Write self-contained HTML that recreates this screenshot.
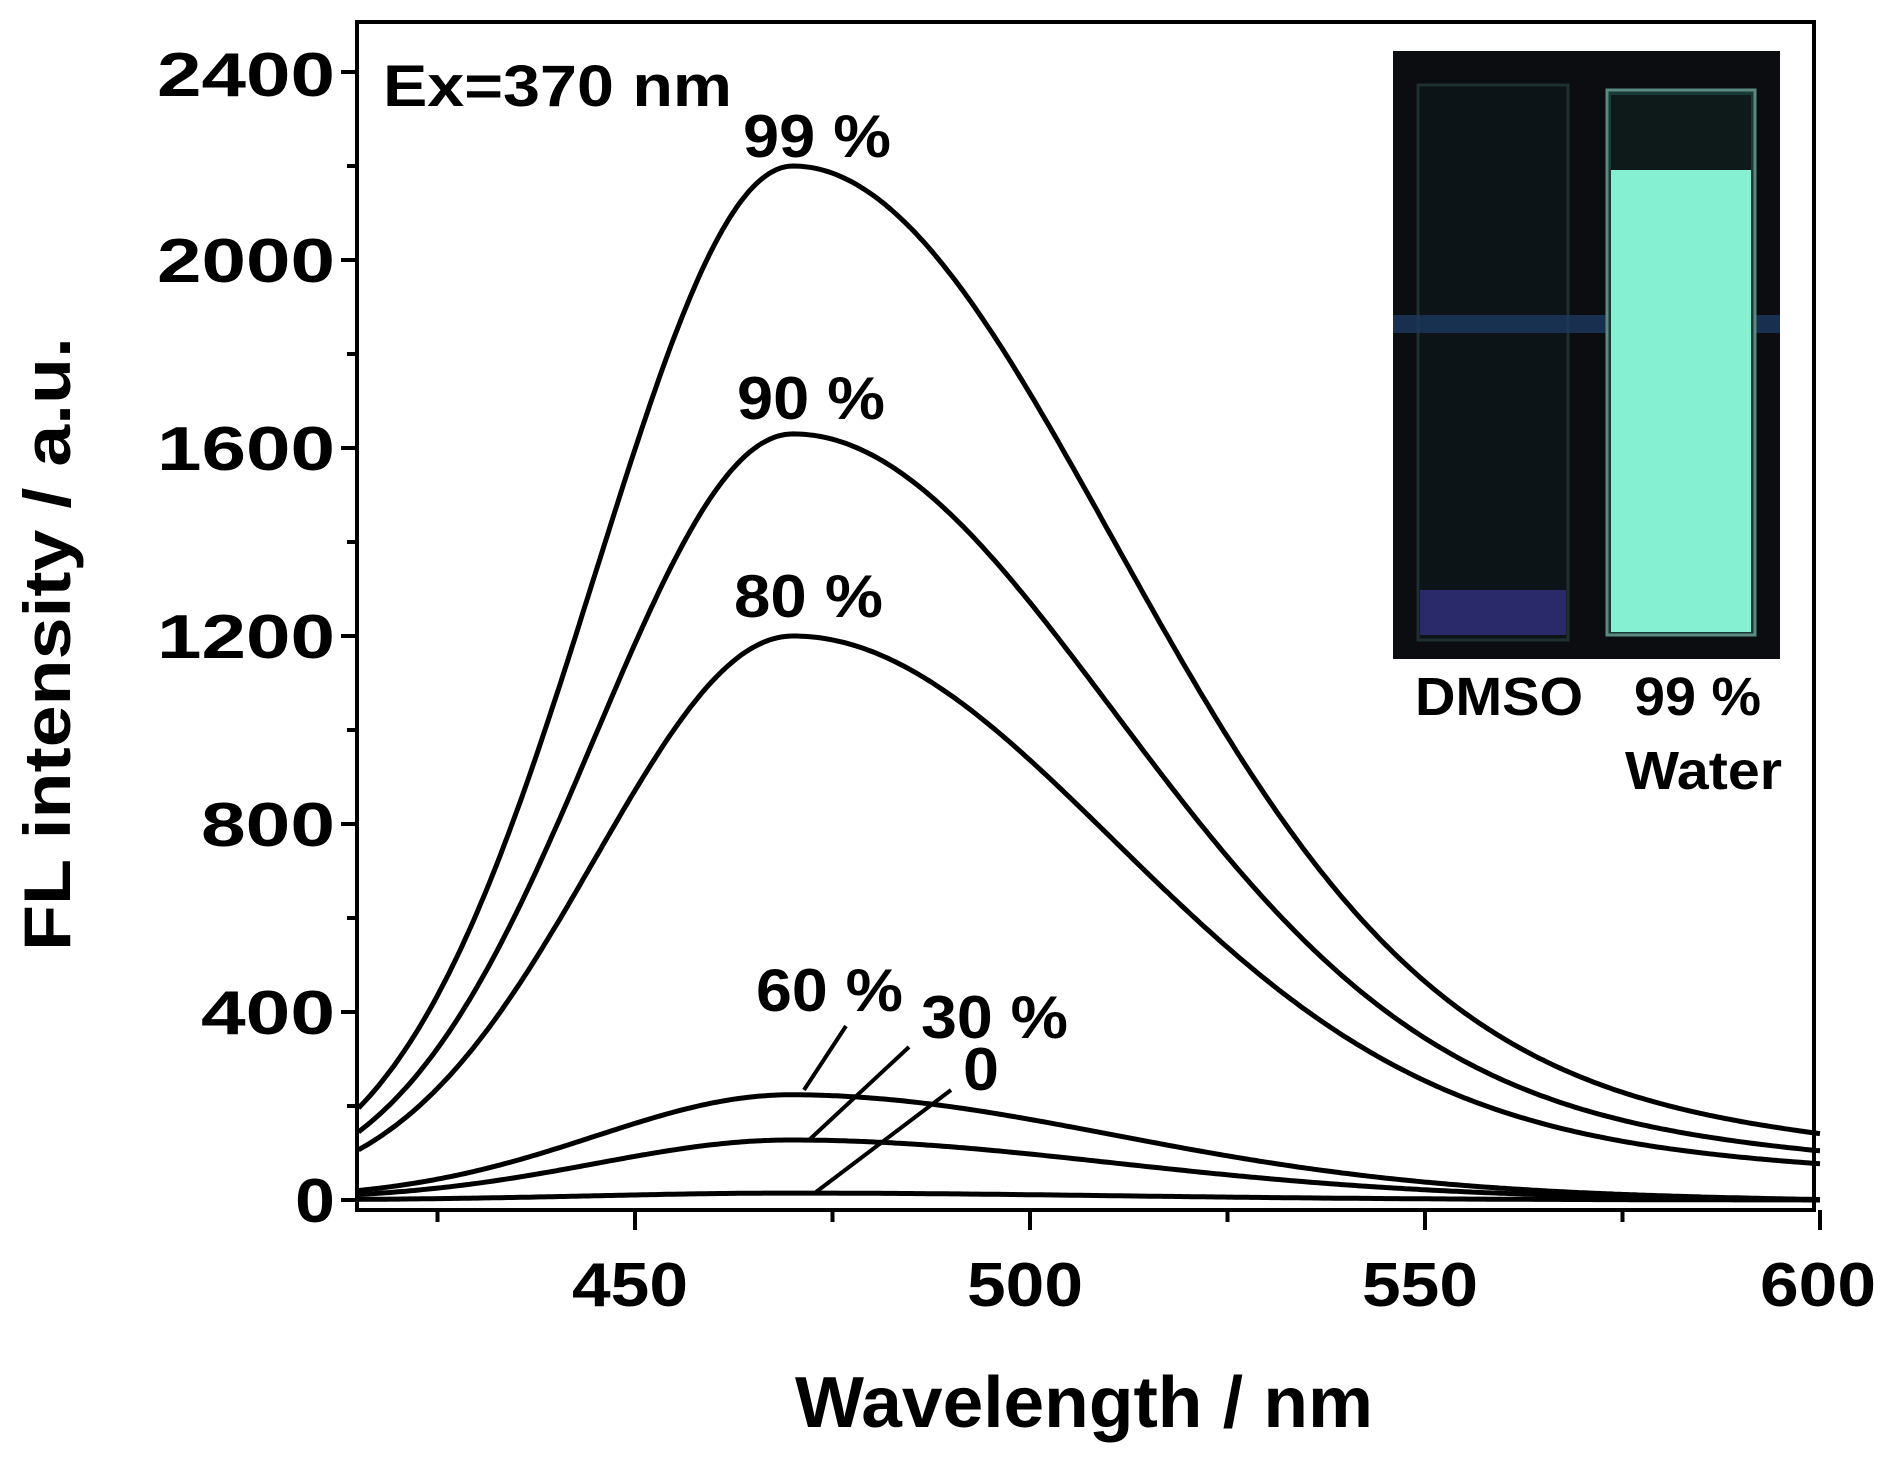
<!DOCTYPE html>
<html><head><meta charset="utf-8"><style>
html,body{margin:0;padding:0;background:#fff;}
svg{display:block;}
text{font-family:"Liberation Sans",Arial,sans-serif;font-weight:bold;fill:#000;}
</style></head><body>
<svg id="s" width="1888" height="1462" viewBox="0 0 1888 1462" xmlns="http://www.w3.org/2000/svg">
<rect width="1888" height="1462" fill="#fff"/>
<g id="curves" fill="none" stroke="#000" stroke-width="5"></g>
<rect x="357" y="22" width="1457" height="1188" fill="none" stroke="#000" stroke-width="4"/>
<g id="ticks" stroke="#000" stroke-width="4"></g>
<g font-size="62" text-anchor="end">
<text x="335" y="1222" textLength="40" lengthAdjust="spacingAndGlyphs">0</text>
<text x="335" y="1034" textLength="134" lengthAdjust="spacingAndGlyphs">400</text>
<text x="335" y="846" textLength="134" lengthAdjust="spacingAndGlyphs">800</text>
<text x="335" y="658" textLength="178" lengthAdjust="spacingAndGlyphs">1200</text>
<text x="335" y="470" textLength="178" lengthAdjust="spacingAndGlyphs">1600</text>
<text x="335" y="282" textLength="178" lengthAdjust="spacingAndGlyphs">2000</text>
<text x="335" y="96" textLength="178" lengthAdjust="spacingAndGlyphs">2400</text>
</g>
<g font-size="62" text-anchor="middle">
<text x="630" y="1306" textLength="116" lengthAdjust="spacingAndGlyphs">450</text>
<text x="1025" y="1306" textLength="116" lengthAdjust="spacingAndGlyphs">500</text>
<text x="1420" y="1306" textLength="116" lengthAdjust="spacingAndGlyphs">550</text>
<text x="1818" y="1306" textLength="116" lengthAdjust="spacingAndGlyphs">600</text>
</g>
<text x="1084" y="1427" font-size="72" text-anchor="middle" textLength="578" lengthAdjust="spacingAndGlyphs">Wavelength / nm</text>
<text transform="translate(70,644) rotate(-90)" font-size="66" text-anchor="middle" textLength="614" lengthAdjust="spacingAndGlyphs">FL intensity / a.u.</text>
<text x="383" y="106" font-size="58" textLength="349" lengthAdjust="spacingAndGlyphs">Ex=370 nm</text>
<g font-size="60">
<text x="743" y="157" textLength="148" lengthAdjust="spacingAndGlyphs">99 %</text>
<text x="737" y="419" textLength="148" lengthAdjust="spacingAndGlyphs">90 %</text>
<text x="734" y="617" textLength="149" lengthAdjust="spacingAndGlyphs">80 %</text>
<text x="756" y="1011" textLength="147" lengthAdjust="spacingAndGlyphs">60 %</text>
<text x="921" y="1038" textLength="147" lengthAdjust="spacingAndGlyphs">30 %</text>
<text x="963" y="1090" textLength="36" lengthAdjust="spacingAndGlyphs">0</text>
</g>
<g stroke="#000" stroke-width="4">
<line x1="846" y1="1026" x2="804" y2="1090"/>
<line x1="909" y1="1047" x2="809" y2="1140"/>
<line x1="951" y1="1090" x2="816" y2="1192"/>
</g>
<rect x="1393" y="51" width="387" height="608" fill="#0b0d10"/>
<rect x="1418" y="85" width="150" height="555" fill="#0d1418" stroke="#1e3030" stroke-width="3"/>
<rect x="1420" y="590" width="146" height="45" fill="#2a2a6a"/>
<rect x="1393" y="315" width="387" height="18" fill="#1c3860" opacity="0.8"/>
<rect x="1607" y="90" width="148" height="545" fill="#1a3a38" stroke="#5a8a80" stroke-width="3"/>
<rect x="1611" y="170" width="140" height="462" fill="#86f0d2"/>
<rect x="1611" y="95" width="140" height="75" fill="#0e1a1a"/>
<g font-size="54">
<text x="1415" y="715" textLength="168" lengthAdjust="spacingAndGlyphs">DMSO</text>
<text x="1634" y="715" textLength="127" lengthAdjust="spacingAndGlyphs">99 %</text>
<text x="1625" y="789" textLength="157" lengthAdjust="spacingAndGlyphs">Water</text>
</g>
</svg>
<script>
var X=function(nm){return 635+(nm-450)*395/50;};
var Y=function(v){return 1200-v*188/400;};
function shape(d){
 if(d<0) return Math.exp(-d*d/(2*25*25));
 return 0.88*Math.exp(-d*d/(2*40*40))+0.12*Math.exp(-d*d/(2*110*110));
}
var ser=[[2200,0],[1630,0],[1200,0],[228,1],[130,1],[15,1]];
var g=document.getElementById('curves');
ser.forEach(function(s){
 var d='';
 for(var nm=415;nm<=600;nm+=0.5){
  var v=shape(nm-470)*s[0];
  if(s[1]){v=v-0.06*s[0]*(nm-415)/185; if(v<0)v=0;}
  d+=(d?'L':'M')+X(nm).toFixed(1)+','+Y(v).toFixed(1);
 }
 var p=document.createElementNS('http://www.w3.org/2000/svg','path');
 p.setAttribute('d',d);g.appendChild(p);
});
var t=document.getElementById('ticks'),h='';
for(var v=0;v<=2400;v+=200){var y=Y(v);h+='<line x1="'+(v%400?347:341)+'" y1="'+y+'" x2="357" y2="'+y+'"/>';}
for(var nm=425;nm<=600;nm+=25){var x=X(nm);h+='<line x1="'+x+'" y1="1210" x2="'+x+'" y2="'+(nm%50?1222:1230)+'"/>';}
t.innerHTML=h;
</script>
</body></html>
